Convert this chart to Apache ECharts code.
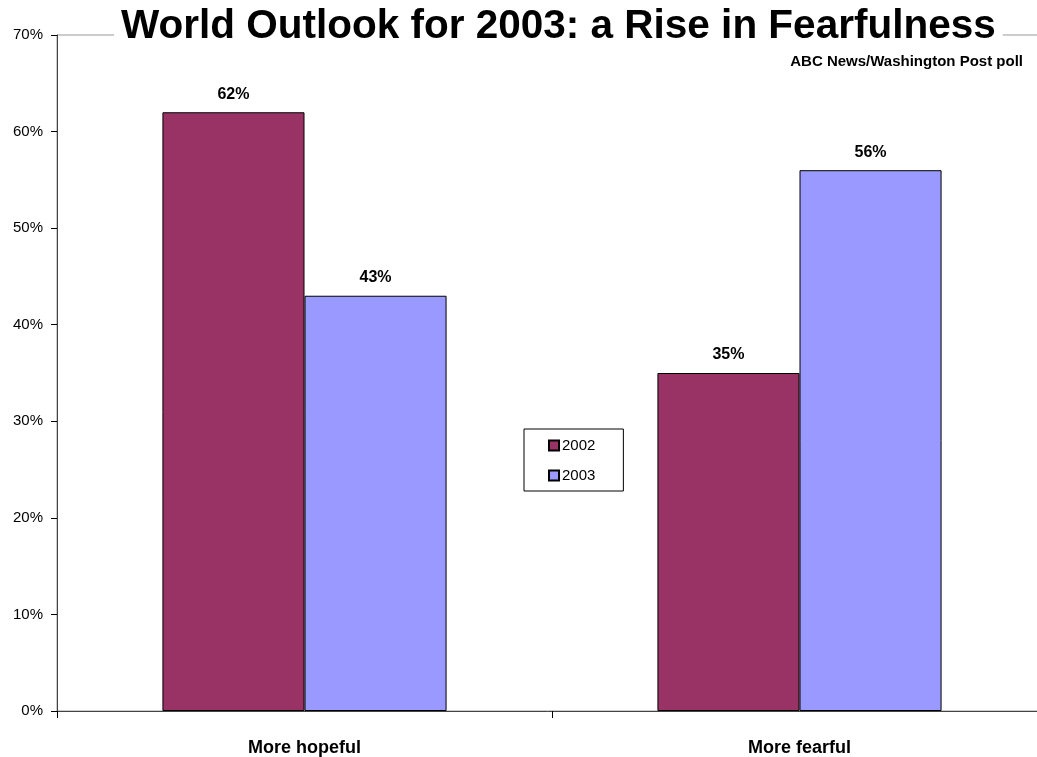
<!DOCTYPE html>
<html><head><meta charset="utf-8">
<script src="https://cdn.jsdelivr.net/npm/echarts@6/dist/echarts.min.js"></script>
<style>html,body{margin:0;padding:0;background:#fff}#c{width:1037px;height:757px}</style>
</head><body><div id="c"></div>
<script>
const categories = ['More hopeful', 'More fearful'];
const series2002 = [62, 35];
const series2003 = [43, 56];
const seriesNames = ['2002', '2003'];

const FONT = '"Liberation Sans", Arial, sans-serif';
const chart = echarts.init(document.getElementById('c'));
const labelStyle = {show: true, position: 'top', formatter: p => p.value + '%', fontFamily: FONT, fontWeight: 'bold', fontSize: 16, color: '#000', distance: 10};
chart.setOption({
  animation: false,
  backgroundColor: '#fff',
  title: [{
    text: 'World Outlook for 2003: a Rise in Fearfulness',
    left: 114, top: 5,
    backgroundColor: '#fff', padding: [1, 7],
    textStyle: {fontFamily: FONT, fontWeight: 700, fontSize: 40.5, color: '#000'}
  }, {
    text: 'ABC News/Washington Post poll',
    right: 14, top: 54, padding: 0,
    textStyle: {fontFamily: FONT, fontWeight: 700, fontSize: 15, color: '#000'}
  }],
  legend: {
    orient: 'vertical', left: 524, top: 429,
    padding: [9, 28, 8, 24],
    itemGap: 15, itemWidth: 10, itemHeight: 10,
    borderColor: '#000', borderWidth: 1, backgroundColor: '#fff',
    icon: 'rect',
    textStyle: {fontFamily: FONT, fontSize: 15, color: '#000', padding: [0, 0, 0, -2]},
    data: seriesNames
  },
  grid: {left: 57, width: 990, top: 35, bottom: 46, outerBoundsMode: 'none', containLabel: false,
         show: true, borderColor: '#999', borderWidth: 1},
  xAxis: {
    type: 'category', data: categories,
    axisLine: {lineStyle: {color: '#444', width: 1}},
    axisTick: {show: true, length: 7, lineStyle: {color: '#000'}},
    axisLabel: {fontFamily: FONT, fontWeight: 'bold', fontSize: 18, color: '#000', margin: 28}
  },
  yAxis: {
    type: 'value', min: 0, max: 70, interval: 10,
    axisLine: {show: true, lineStyle: {color: '#444', width: 1}},
    axisTick: {show: true, length: 6, lineStyle: {color: '#000'}},
    splitLine: {show: false},
    axisLabel: {formatter: '{value}%', fontFamily: FONT, fontSize: 15, color: '#000', margin: 14}
  },
  series: [
    {name: seriesNames[0], type: 'bar', data: series2002, barGap: '0%', barCategoryGap: '42.6%',
     itemStyle: {color: '#993366', borderColor: '#000', borderWidth: 1}, label: labelStyle},
    {name: seriesNames[1], type: 'bar', data: series2003, barGap: '0%', barCategoryGap: '42.6%',
     itemStyle: {color: '#9999FF', borderColor: '#000', borderWidth: 1}, label: labelStyle}
  ]
});
</script></body></html>
